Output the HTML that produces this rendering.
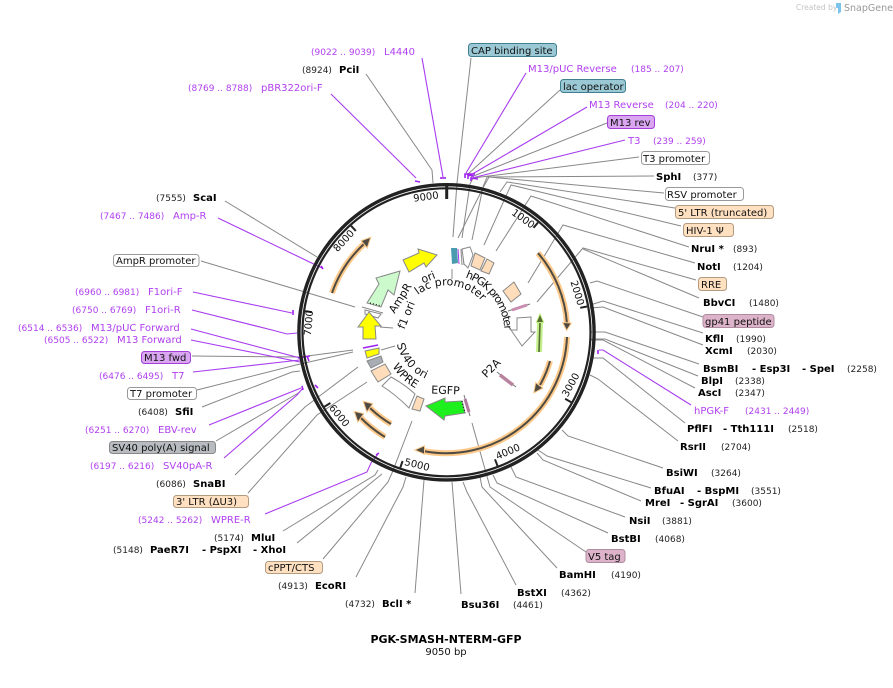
<!DOCTYPE html>
<html><head><meta charset="utf-8"><title>PGK-SMASH-NTERM-GFP</title>
<style>
html,body{margin:0;padding:0;background:#fff}
svg{display:block}
text{font-family:"DejaVu Sans","Liberation Sans",sans-serif;font-size:10px;fill:#111}
text.i{font-size:11px}
.b{font-weight:bold;fill:#000}
.n{font-size:9px;fill:#222}
.p{fill:#b040f0}
.pn{font-size:9px;fill:#b040f0}
.g{fill:none;stroke:#888;stroke-width:1}
.v{fill:none;stroke:#a83cf0;stroke-width:1.1}
.m{fill:none;stroke:#a020f0;stroke-width:1.6}
.bx{stroke-width:1}
.gl{fill:none;stroke:#fcc98a;stroke-width:6}
.dk{fill:none;stroke:#4f4a42;stroke-width:2}
.hd{fill:#4f4a42;stroke:#fcc98a;stroke-width:2;paint-order:stroke}
.f{stroke:#888;stroke-width:1}
</style></head><body>
<svg width="893" height="688" viewBox="0 0 893 688" xmlns="http://www.w3.org/2000/svg">
<defs>
<path id="lacp" d="M399.5,332.3 A47,47 0 0 1 493.5,332.3"/>
<path id="hpgk" d="M388.5,332.3 A58,58 0 0 1 504.5,332.3"/>
<path id="sv40" d="M395.5,332.3 A51,51 0 0 0 497.5,332.3"/>
<path id="wpre" d="M382.5,332.3 A64,64 0 0 0 510.5,332.3"/>
</defs>

<!-- outer connectors: top -->
<g class="g">
<path d="M366,74 L432,170 L433,183"/>
<path d="M471,58 L457,183 L453,237"/>
<path d="M560,90 L467,175"/>
<path d="M607,123 L471,177"/>
<path d="M639,157 L473,178 L470,184 L462,238"/>
<path d="M654,176 L487,177 L483,187 L472,240"/>
<path d="M664,193 L489,177 L484,186 L458,238"/>
<path d="M675,208 L507,182 L500,192"/>
<path d="M681,226 L511,185 L484,245"/>
<path d="M689,247 L531,196 L496,251"/>
<path d="M695,263 L563,225 L528,283"/>
<path d="M696,280 L583,248 L537,302"/>
<path d="M699,298 L583,249"/>
<path d="M703,317 L597,281 L590,283"/>
<path d="M703,333 L603,301 L590,305"/>
<path d="M703,345 L603,307 L590,308"/>
<path d="M699,364 L605,332 L590,332"/>
<path d="M698,376 L605,339 L590,339"/>
<path d="M695,388 L603,340 L590,340"/>
<path d="M685,423 L603,358 L592,358"/>
<path d="M678,441 L598,379 L590,375"/>
<path d="M663,468 L568,436 L562,430"/>
<path d="M651,488 L547,456 L538,450"/>
<path d="M641,501 L543,460 L537,453"/>
<path d="M625,517 L516,477 L511,467"/>
<path d="M608,533 L497,483 L493,475"/>
<path d="M586,552 L490,487 L472,423"/>
<path d="M557,568 L482,487 L480,477"/>
<path d="M516,585 L467,492 L463,482"/>
<path d="M461,594 L452,482"/>
<path d="M415,593 L424,480"/>
<path d="M356,577 L403,487 L406,477"/>
<path d="M323,559 L388,482 L392,473 L412,421"/>
<path d="M297,543 L382,474"/>
<path d="M283,531 L375,475 L378,470"/>
<path d="M248,493 L317,415 L367,382"/>
<path d="M235,475 L305,407 L358,367"/>
<path d="M216,441 L300,392"/>
<path d="M202,407 L292,372 L300,371"/>
<path d="M197,390 L296,365 L353,352"/>
<path d="M192,356 L300,357 L353,350"/>
<path d="M201,261 L355,307"/>
<path d="M225,201 L317,257"/>
<path d="M380,327 L393,328"/>
<path d="M381,350 L395,346"/>
<path d="M452,269 L452,279"/>
</g>
<g class="v">
<path d="M422,58 L443,177"/>
<path d="M331,94 L416,178"/>
<path d="M526,73 L466,173"/>
<path d="M587,107 L469,176"/>
<path d="M625,140 L472,178"/>
<path d="M691,405 L603,350 L599,350"/>
<path d="M224,458 L297,395 L303,388"/>
<path d="M209,425 L301,388"/>
<path d="M193,372 L300,360"/>
<path d="M191,340 L300,362"/>
<path d="M191,329 L300,358"/>
<path d="M192,310 L272,330 L287,334 L297,333"/>
<path d="M193,292 L292,313"/>
<path d="M218,218 L322,268"/>
<path d="M265,514 L367,472 L371,463 L378,454"/>
</g>
<g class="m">
<path d="M440,178 L446,178"/>
<path d="M415,181 L420,182"/>
<path d="M465,178 L465,174 L475,174"/>
<path d="M468,179 L468,175 L474,176"/>
<path d="M471,181 L471,178 L478,179"/>
<path d="M293,310 L293,315"/>
<path d="M307,356 L309,361 M298,358 L310,356"/>
<path d="M302,386 L303,390"/>
<path d="M315,385 L318,388"/>
<path d="M321,266 L323,269"/>
<path d="M598,350 L598,354"/>
<path d="M376,455 L379,453"/>
</g>

<!-- plasmid ring -->
<circle cx="446.5" cy="332.3" r="147.6" fill="none" stroke="#222" stroke-width="3.4"/>
<circle cx="446.5" cy="332.3" r="144" fill="none" stroke="#222" stroke-width="2.2"/>

<!-- ticks -->
<g stroke="#222" stroke-width="2">
<path d="M446.7,186 V199" stroke-width="3"/>
<path d="M533.5,227.8 L538,222.5"/>
<path d="M580.2,307.8 L587,306.5"/>
<path d="M565.1,398.8 L571.2,402.2"/>
<path d="M495,459.3 L497.5,465.9"/>
<path d="M402.6,461 L400.3,467.6"/>
<path d="M330.4,403 L324.4,406.7"/>
<path d="M312,312.2 L305.1,311.1"/>
<path d="M355.8,231 L351.1,225.8"/>
</g>
<g>
<text x="523" y="222" text-anchor="middle" transform="rotate(36 523 219)">1000</text>
<text x="577" y="296" text-anchor="middle" transform="rotate(73 577 293)">2000</text>
<text x="571" y="388" text-anchor="middle" transform="rotate(-61 571 385)">3000</text>
<text x="508" y="455" text-anchor="middle" transform="rotate(-23 508 452)">4000</text>
<text x="417" y="468" text-anchor="middle" transform="rotate(14 417 465)">5000</text>
<text x="339" y="419" text-anchor="middle" transform="rotate(50 339 416)">6000</text>
<text x="309" y="326" text-anchor="middle" transform="rotate(-85 309 323)">7000</text>
<text x="344" y="244" text-anchor="middle" transform="rotate(-47 344 241)">8000</text>
<text x="426" y="200" text-anchor="middle" transform="rotate(-8 426 197)">9000</text>
</g>

<!-- orange ORF arcs -->
<g>
<path class="gl" d="M538,253 A121,121 0 0 1 567,324"/>
<path class="gl" d="M567,337 A121,121 0 0 1 423,451"/>
<path class="gl" d="M550,361 A107.5,107.5 0 0 1 540,385"/>
<path class="gl" d="M332,293 A121,121 0 0 1 365,243"/>
<path class="gl" d="M391,424 A108,108 0 0 1 370,408"/>
<path class="gl" d="M385,437 A121.7,121.7 0 0 1 361,418"/>
<path class="dk" d="M538,253 A121,121 0 0 1 567,324"/>
<path class="dk" d="M567,337 A121,121 0 0 1 423,451"/>
<path class="dk" d="M550,361 A107.5,107.5 0 0 1 540,385"/>
<path class="dk" d="M332,293 A121,121 0 0 1 365,243"/>
<path class="dk" d="M391,424 A108,108 0 0 1 370,408"/>
<path class="dk" d="M385,437 A121.7,121.7 0 0 1 361,418"/>
<polygon class="hd" points="566.7,329.5 563.5,323 570.5,323.5"/>
<polygon class="hd" points="416,450 424,446.5 424,453.5"/>
<polygon class="hd" points="534.5,392 536,383.5 542,388"/>
<polygon class="hd" points="370,238 362,241 367,247"/>
<polygon class="hd" points="364,402 372,404 367,411"/>
<polygon class="hd" points="355,412 363,414 358,421"/>
</g>
<path d="M540,322 L539,352" stroke="#c4f08c" stroke-width="6" fill="none"/>
<path d="M540,322 L539,352" stroke="#556b2f" stroke-width="1.6" fill="none"/>
<polygon points="540,315 537,322 543,322" fill="#556b2f" stroke="#c4f08c" stroke-width="2" paint-order="stroke"/>

<!-- features -->
<polygon class="f" fill="#ffff00" points="403,260 419,253 418,249 437,255 426,267 424,263 409,272"/>
<polygon class="f" fill="#ccfacc" points="400,271 376,278 379,284 367,303 381,307 388,290 394,295"/>
<path d="M370,303 L380,305.5" stroke="#000" stroke-dasharray="1 2" fill="none"/>
<path d="M362,307 L383,313" stroke="#888"/>
<polygon class="f" fill="#fff" points="365,310 381,314 378,318 365,314"/>
<polygon class="f" fill="#ffff00" points="358,327 369,312 381,326 375,326 376,339 363,339 363,327"/>
<path d="M363,348 L378,345" stroke="#a020f0" stroke-width="1.5"/>
<polygon class="f" fill="#ffff00" points="365,351 379,348 379,354 367,358"/>
<polygon class="f" fill="#a8aeb4" points="367,361 381,356 383,362 371,368"/>
<polygon class="f" fill="#ffddbb" points="371,371 385,364 391,374 378,382"/>
<path class="f" fill="#fff" d="M382,386 L391,377 Q404,384 415,394 L409,408 Q395,394 382,386 Z"/>
<polygon class="f" fill="#ffddbb" points="417,396 424,399 420,411 412,409"/>
<polygon class="f" fill="#1ef01e" points="426,406 445,398 445,402 462,401 465,413 445,416 444,420"/>
<path d="M462,401 L465,413" stroke="#000" stroke-dasharray="1 2"/>
<path d="M464,395 L470,416" stroke="#777" stroke-width="1"/>
<path d="M465,399 L469,412" stroke="#b07a9f" stroke-width="3"/>
<path d="M497,372 L516,387" stroke="#777" stroke-width="1"/>
<path d="M500,375 L513,385" stroke="#b9829f" stroke-width="3.5"/>
<polygon class="f" fill="#fff" points="517,318 531,317 531,332 535,332 522,346 511,330 517,330"/>
<polygon class="f" fill="#ffddbb" points="503,291 514,282 521,294 511,302"/>
<path d="M508,311 L530,304" stroke="#777" stroke-width="1"/>
<path d="M512,310 L527,305" stroke="#c98cb0" stroke-width="3"/>
<polygon class="f" fill="#ffddbb" points="475,253 485,258 480,270 471,266"/>
<polygon class="f" fill="#ffddbb" points="487,259 494,263 489,274 481,271"/>
<polygon points="451,248 457,248 458,263 452,264" fill="#4a9bb0"/>
<path d="M458,249 L459,264" stroke="#a83cf0" stroke-width="1"/>
<path d="M461,249 L462,265 M463,249 L464,265" stroke="#999" stroke-width="1.2"/>
<polygon class="f" fill="#fff" points="462,249 470,247 473,255 468,268 464,264"/>

<!-- inner labels -->
<text class="i" x="428" y="281" text-anchor="middle" transform="rotate(-22 428 277)">ori</text>
<text class="i" x="400" y="302" text-anchor="middle" transform="rotate(-58 400 298)">AmpR</text>
<text class="i" x="406" y="319" text-anchor="middle" transform="rotate(-68 406 315)">f1 ori</text>
<text class="i"><textPath href="#lacp" startOffset="43">lac promoter</textPath></text>
<text class="i" style="letter-spacing:-1.2px"><textPath href="#hpgk" startOffset="110">hPGK promoter</textPath></text>
<text class="i"><textPath href="#sv40" startOffset="12">SV40 ori</textPath></text>
<text class="i"><textPath href="#wpre" startOffset="36">WPRE</textPath></text>
<text class="i" x="445.5" y="394" text-anchor="middle" transform="rotate(2 445.5 390)">EGFP</text>
<text class="i" x="491" y="372" text-anchor="middle" transform="rotate(-45 491 368)">P2A</text>

<!-- boxes -->
<g class="bx">
<rect x="468.5" y="43.5" width="88" height="13" rx="3" fill="#9ac8d4" stroke="#3f7f90"/>
<rect x="560.5" y="79.5" width="65" height="13" rx="3" fill="#9ac8d4" stroke="#3f7f90"/>
<rect x="607.5" y="115.5" width="47" height="13" rx="3" fill="#daa6f2" stroke="#a23fd6"/>
<rect x="641.5" y="151.5" width="68" height="13" rx="3" fill="#fff" stroke="#999"/>
<rect x="665.5" y="187.5" width="78" height="13" rx="3" fill="#fff" stroke="#999"/>
<rect x="675.5" y="205.5" width="98" height="13" rx="3" fill="#ffe0c0" stroke="#b39b80"/>
<rect x="683.5" y="223.5" width="50" height="13" rx="3" fill="#ffe0c0" stroke="#b39b80"/>
<rect x="698.5" y="277.5" width="28" height="13" rx="3" fill="#ffe0c0" stroke="#b39b80"/>
<rect x="703" y="314.5" width="71" height="13" rx="3" fill="#dcb3c9" stroke="#b08ca0"/>
<rect x="586" y="549.5" width="39" height="13" rx="3" fill="#dcb3c9" stroke="#b08ca0"/>
<rect x="113.5" y="254.5" width="85.5" height="12" rx="3" fill="#fff" stroke="#999"/>
<rect x="141.5" y="351.5" width="49" height="12" rx="3" fill="#daa6f2" stroke="#a23fd6"/>
<rect x="127.5" y="387.5" width="69" height="12" rx="3" fill="#fff" stroke="#999"/>
<rect x="109.5" y="441.5" width="106" height="12" rx="3" fill="#b8bcc0" stroke="#888"/>
<rect x="173.5" y="495.5" width="75" height="12" rx="3" fill="#ffe0c0" stroke="#b39b80"/>
<rect x="265.5" y="561.5" width="57" height="12" rx="3" fill="#ffe0c0" stroke="#b39b80"/>
</g>

<!-- box labels -->
<text x="471" y="54">CAP binding site</text>
<text x="563" y="90">lac operator</text>
<text x="610" y="126">M13 rev</text>
<text x="643" y="162">T3 promoter</text>
<text x="667" y="198">RSV promoter</text>
<text x="678" y="216">5' LTR (truncated)</text>
<text x="686" y="234">HIV-1 Ψ</text>
<text x="701" y="288">RRE</text>
<text x="705" y="325">gp41 peptide</text>
<text x="588" y="560">V5 tag</text>
<text x="116" y="264">AmpR promoter</text>
<text x="144" y="361">M13 fwd</text>
<text x="130" y="397">T7 promoter</text>
<text x="112" y="451">SV40 poly(A) signal</text>
<text x="176" y="505">3' LTR (ΔU3)</text>
<text x="268" y="571">cPPT/CTS</text>

<!-- primers and sites: left & top -->
<text class="pn" x="311" y="55">(9022 .. 9039)</text><text class="p" x="384" y="55">L4440</text>
<text class="n" x="302" y="73">(8924)</text><text class="b" x="339" y="73">PciI</text>
<text class="pn" x="188" y="91">(8769 .. 8788)</text><text class="p" x="261" y="91">pBR322ori-F</text>
<text class="n" x="156" y="201">(7555)</text><text class="b" x="193" y="201">ScaI</text>
<text class="pn" x="100" y="219">(7467 .. 7486)</text><text class="p" x="173" y="219">Amp-R</text>
<text class="pn" x="75" y="295">(6960 .. 6981)</text><text class="p" x="148" y="295">F1ori-F</text>
<text class="pn" x="72" y="313">(6750 .. 6769)</text><text class="p" x="145" y="313">F1ori-R</text>
<text class="pn" x="18" y="331">(6514 .. 6536)</text><text class="p" x="91" y="331">M13/pUC Forward</text>
<text class="pn" x="44" y="343">(6505 .. 6522)</text><text class="p" x="117" y="343">M13 Forward</text>
<text class="pn" x="99" y="379">(6476 .. 6495)</text><text class="p" x="172" y="379">T7</text>
<text class="n" x="138" y="415">(6408)</text><text class="b" x="175" y="415">SfiI</text>
<text class="pn" x="85" y="433">(6251 .. 6270)</text><text class="p" x="158" y="433">EBV-rev</text>
<text class="pn" x="90" y="469">(6197 .. 6216)</text><text class="p" x="163" y="469">SV40pA-R</text>
<text class="n" x="156" y="487">(6086)</text><text class="b" x="193" y="487">SnaBI</text>
<text class="pn" x="138" y="523">(5242 .. 5262)</text><text class="p" x="211" y="523">WPRE-R</text>
<text class="n" x="214" y="541">(5174)</text><text class="b" x="251" y="541">MluI</text>
<text class="n" x="113" y="553">(5148)</text><text class="b" x="150" y="553">PaeR7I</text><text class="b" x="202" y="553">- PspXI</text><text class="b" x="253" y="553">- XhoI</text>
<text class="n" x="278" y="589">(4913)</text><text class="b" x="315" y="589">EcoRI</text>
<text class="n" x="345" y="607">(4732)</text><text class="b" x="382" y="607">BclI *</text>
<text class="b" x="461" y="608">Bsu36I</text><text class="n" x="513" y="608">(4461)</text>
<text class="b" x="517" y="596">BstXI</text><text class="n" x="561" y="596">(4362)</text>
<text class="b" x="559" y="578">BamHI</text><text class="n" x="611" y="578">(4190)</text>

<!-- right side -->
<text class="b" x="611" y="542">BstBI</text><text class="n" x="655" y="542">(4068)</text>
<text class="b" x="629" y="524">NsiI</text><text class="n" x="662" y="524">(3881)</text>
<text class="b" x="645" y="506">MreI</text><text class="b" x="680" y="506">- SgrAI</text><text class="n" x="732" y="506">(3600)</text>
<text class="b" x="654" y="494">BfuAI</text><text class="b" x="697" y="494">- BspMI</text><text class="n" x="751" y="494">(3551)</text>
<text class="b" x="666" y="476">BsiWI</text><text class="n" x="711" y="476">(3264)</text>
<text class="b" x="680" y="450">RsrII</text><text class="n" x="721" y="450">(2704)</text>
<text class="b" x="687" y="432">PflFI</text><text class="b" x="723" y="432">- Tth111I</text><text class="n" x="788" y="432">(2518)</text>
<text class="p" x="694" y="414">hPGK-F</text><text class="pn" x="745" y="414">(2431 .. 2449)</text>
<text class="b" x="698" y="396">AscI</text><text class="n" x="735" y="396">(2347)</text>
<text class="b" x="701" y="384">BlpI</text><text class="n" x="735" y="384">(2338)</text>
<text class="b" x="703" y="372">BsmBI</text><text class="b" x="752" y="372">- Esp3I</text><text class="b" x="802" y="372">- SpeI</text><text class="n" x="847" y="372">(2258)</text>
<text class="b" x="705" y="354">XcmI</text><text class="n" x="747" y="354">(2030)</text>
<text class="b" x="705" y="342">KflI</text><text class="n" x="736" y="342">(1990)</text>
<text class="b" x="703" y="306">BbvCI</text><text class="n" x="749" y="306">(1480)</text>
<text class="b" x="697" y="270">NotI</text><text class="n" x="733" y="270">(1204)</text>
<text class="b" x="691" y="252">NruI *</text><text class="n" x="733" y="252">(893)</text>
<text class="b" x="656" y="180">SphI</text><text class="n" x="693" y="180">(377)</text>
<text class="p" x="628" y="144">T3</text><text class="pn" x="653" y="144">(239 .. 259)</text>
<text class="p" x="589" y="108">M13 Reverse</text><text class="pn" x="665" y="108">(204 .. 220)</text>
<text class="p" x="528" y="72">M13/pUC Reverse</text><text class="pn" x="631" y="72">(185 .. 207)</text>

<!-- title -->
<text x="446" y="643" text-anchor="middle" style="font-weight:bold;font-size:11px;fill:#000">PGK-SMASH-NTERM-GFP</text>
<text x="446" y="655" text-anchor="middle">9050 bp</text>

<!-- logo -->
<text x="796" y="10" style="font-size:7.5px;fill:#c4c4c4">Created by</text>
<path d="M836,3 h5 v9 l-3,2 v-6 h-2 z" fill="#7cc4ee"/>
<text x="844" y="11" style="font-size:9.5px;fill:#999">SnapGene</text>
</svg>
</body></html>
